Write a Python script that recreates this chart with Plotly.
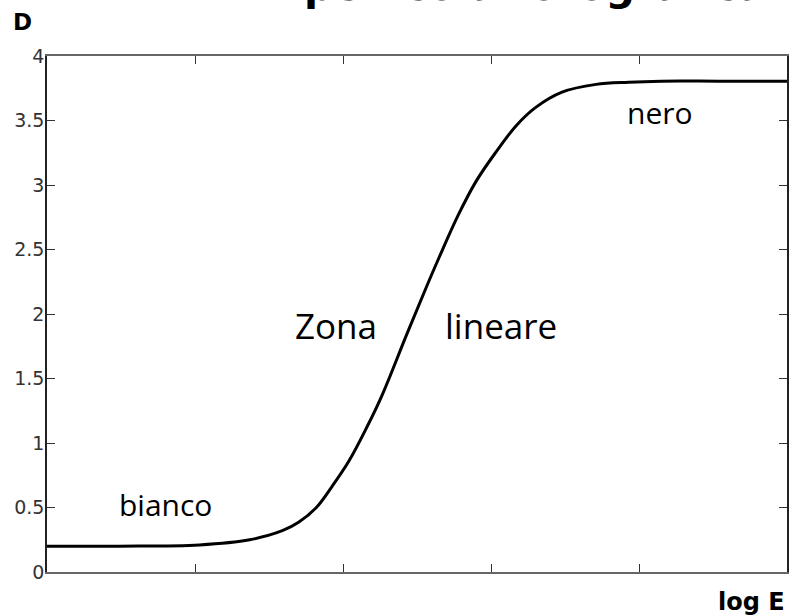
import plotly.graph_objects as go

# Characteristic curve of photographic film: density D versus log exposure
log_e = [0.0, 0.49, 1.03, 1.37, 1.59, 1.70, 1.82, 1.93, 2.04, 2.16, 2.26, 2.43,
         2.56, 2.65, 2.78, 2.90, 3.03, 3.17, 3.30, 3.48, 3.71, 3.93, 4.15, 4.54, 5.0]
density = [0.20, 0.20, 0.21, 0.25, 0.32, 0.385, 0.50, 0.67, 0.86, 1.12, 1.36, 1.84,
           2.20, 2.44, 2.77, 3.03, 3.25, 3.46, 3.60, 3.72, 3.78, 3.797, 3.805, 3.805, 3.805]

x_ticks = [0, 1, 2, 3, 4, 5]
y_ticks = [0, 0.5, 1, 1.5, 2, 2.5, 3, 3.5, 4]
y_tick_text = ["0", "0.5", "1", "1.5", "2", "2.5", "3", "3.5", "4"]

# Region labels: (text, log E, D, font size)
region_labels = [
    ("bianco", 0.80, 0.52, 30),
    ("Zona", 1.95, 1.91, 35),
    ("lineare", 3.07, 1.91, 35),
    ("nero", 4.14, 3.56, 30),
]

fig = go.Figure()
fig.add_trace(go.Scatter(
    x=log_e, y=density, mode="lines",
    line=dict(color="black", width=3, shape="spline", smoothing=1.0),
    hoverinfo="skip", showlegend=False,
))

for text, xv, yv, size in region_labels:
    fig.add_annotation(
        x=xv, y=yv, xref="x", yref="y", text=text, showarrow=False,
        font=dict(family="Open Sans", size=size, color="black"),
        xanchor="center", yanchor="middle",
    )

axis_common = dict(
    showgrid=False, zeroline=False, showline=True,
    linewidth=1.5, mirror="ticks", ticks="inside", ticklen=8,
    tickcolor="#333333", tickwidth=1,
)

fig.update_xaxes(range=[0, 5], tickvals=x_ticks, showticklabels=False,
                 linecolor="#666666", **axis_common)
fig.update_yaxes(range=[0, 4], tickvals=y_ticks, ticktext=y_tick_text,
                 tickfont=dict(family="DejaVu Sans", size=19, color="#333333"),
                 ticklabelstandoff=-3, linecolor="#222222", **axis_common)

# Axis names
fig.add_annotation(x=-0.033, y=1.066, xref="paper", yref="paper", text="<b>D</b>",
                   showarrow=False, xanchor="center", yanchor="middle",
                   font=dict(family="DejaVu Sans", size=23, color="black"))
fig.add_annotation(x=1.0, y=-0.058, xref="paper", yref="paper", text="<b>log E</b>",
                   showarrow=False, xanchor="right", yanchor="middle",
                   font=dict(family="DejaVu Sans", size=24, color="black"))

# Title, running off the top edge
fig.add_annotation(x=0.659, y=1.0853, xref="paper", yref="paper",
                   text="<b>pellicola fotografica</b>", showarrow=False,
                   xanchor="center", yanchor="bottom",
                   font=dict(family="DejaVu Sans", size=41, color="black"))

fig.update_layout(
    width=793, height=616,
    margin=dict(l=47, r=4, t=56, b=44),
    paper_bgcolor="white", plot_bgcolor="white",
)

fig.write_html("out.html")
